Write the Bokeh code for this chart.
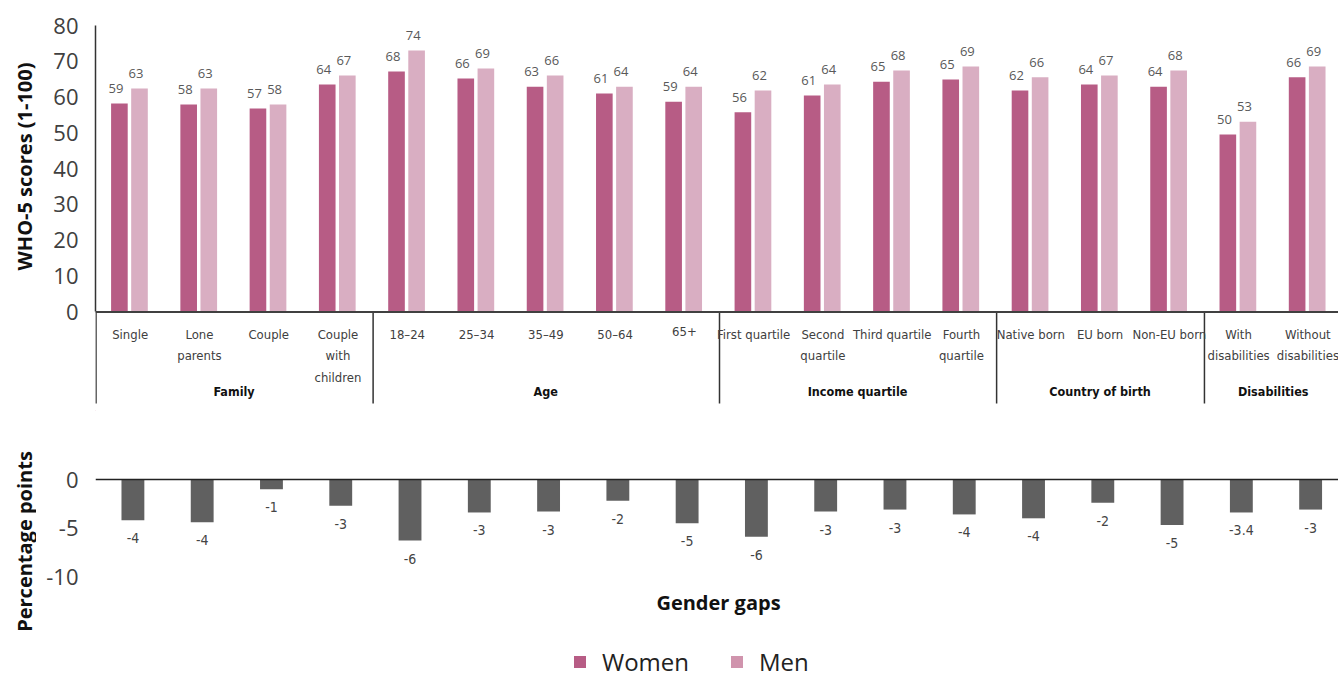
import math
from bokeh.plotting import figure
from bokeh.layouts import column, row
from bokeh.models import Range1d, FixedTicker, Span, Legend, LegendItem
from bokeh.core.properties import value
from bokeh.embed import file_html
from bokeh.resources import INLINE

# ---------------- data ----------------
categories = ["Single", "Lone\nparents", "Couple", "Couple\nwith\nchildren",
              "18\u201324", "25\u201334", "35\u201349", "50\u201364", "65+",
              "First quartile", "Second\nquartile", "Third quartile", "Fourth\nquartile",
              "Native born", "EU born", "Non-EU born",
              "With\ndisabilities", "Without\ndisabilities"]
groups = ["Family", "Age", "Income quartile", "Country of birth", "Disabilities"]
group_sizes = [4, 5, 4, 3, 2]

women = [58.2, 57.9, 56.8, 63.5, 67.1, 65.2, 62.9, 61.0, 58.7,
         55.7, 60.4, 64.3, 64.9, 61.8, 63.5, 62.9, 49.5, 65.5]
men = [62.4, 62.4, 57.9, 66.0, 73.0, 68.0, 66.0, 62.9, 62.9,
       61.8, 63.5, 67.4, 68.5, 65.5, 66.0, 67.4, 53.1, 68.5]
women_labels = ["59", "58", "57", "64", "68", "66", "63", "61", "59",
                "56", "61", "65", "65", "62", "64", "64", "50", "66"]
men_labels = ["63", "63", "58", "67", "74", "69", "66", "64", "64",
              "62", "64", "68", "69", "66", "67", "68", "53", "69"]

gaps = [-4.2, -4.4, -1.0, -2.7, -6.3, -3.4, -3.3, -2.2, -4.5,
        -5.9, -3.3, -3.1, -3.6, -4.0, -2.4, -4.7, -3.4, -3.1]
gap_labels = ["-4", "-4", "-1", "-3", "-6", "-3", "-3", "-2", "-5",
              "-6", "-3", "-3", "-4", "-4", "-2", "-5", "-3.4", "-3"]

y_ticks_top = [0, 10, 20, 30, 40, 50, 60, 70, 80]
y_ticks_bottom = [-10, -5, 0]
y_tick_labels_bottom = {-10: "-10", -5: "-5", 0: "0"}
axis_titles = ["WHO-5 scores (1-100)", "Percentage points"]

# ---------------- styling ----------------
WOMEN_C = "#b75c85"
MEN_C = "#d9aec2"
MEN_LEG_C = "#d094ad"
GAP_C = "#606060"
PAGE_W, PAGE_H = 1338, 679
TITLE_W = 36                 # strip holding the rotated axis titles
W = PAGE_W - TITLE_W
LEFT = 95 - TITLE_W
NARROW = "'Liberation Sans Narrow', 'DejaVu Sans Condensed', 'Roboto Condensed', 'Open Sans'"

n = len(categories)
x_end = 18.0 - 4 / 69.25
xr = Range1d(0, x_end)
px_per_x = (W - LEFT) / x_end
slot = [i + 0.5 for i in range(n)]


def style_yaxis(ax, ticks):
    ax.ticker = FixedTicker(ticks=ticks)
    ax.major_tick_line_color = None
    ax.minor_tick_line_color = None
    ax.major_tick_out = 0
    ax.minor_tick_out = 0
    ax.major_tick_in = 0
    ax.major_label_standoff = 17
    ax.major_label_text_font = "Open Sans"
    ax.major_label_text_font_size = "22px"
    ax.major_label_text_color = "#404040"


# ---------------- axis-title strip ----------------
pt = figure(width=TITLE_W, height=PAGE_H, x_range=Range1d(0, TITLE_W),
            y_range=Range1d(0, PAGE_H), output_backend="svg", toolbar_location=None,
            x_axis_location=None, y_axis_location=None,
            min_border_left=0, min_border_right=0, min_border_top=0, min_border_bottom=0)
pt.grid.visible = False
pt.outline_line_color = None
pt.text(x=[23.5, 23.5], y=[PAGE_H - 166, PAGE_H - 541], text=axis_titles, angle=math.pi / 2,
        text_align="center", text_baseline="middle", text_font=value("Open Sans"),
        text_font_size="20px", text_font_style="bold", text_color="#111111")

# ---------------- top chart + category band ----------------
TOP_H = 410
TOP_BORDER = 25
ppu_top = 286 / 80.0          # pixels per score unit
band_px = TOP_H - TOP_BORDER - 286
y_min_top = -band_px / ppu_top

p1 = figure(width=W, height=TOP_H, x_range=xr, y_range=Range1d(y_min_top, 80),
            output_backend="svg", toolbar_location=None, x_axis_location=None,
            min_border_left=LEFT, min_border_right=0, min_border_top=TOP_BORDER,
            min_border_bottom=0)
p1.grid.visible = False
p1.outline_line_color = None
ya = p1.yaxis[0]
style_yaxis(ya, y_ticks_top)
ya.bounds = (0, 80)
ya.axis_line_color = "#333333"
ya.axis_line_width = 1.5

xw = [s - 0.155 for s in slot]
xm = [s + 0.135 for s in slot]
p1.vbar(x=xw, top=women, bottom=0, width=0.24, fill_color=WOMEN_C, line_color=None)
p1.vbar(x=xm, top=men, bottom=0, width=0.24, fill_color=MEN_C, line_color=None)

lab_off = 15 / ppu_top
p1.text(x=[x - 0.05 for x in xw], y=[v + lab_off for v in women], text=women_labels,
        text_align="center", text_baseline="middle", text_font=value("Open Sans"),
        text_font_size="13px", text_color="#595959")
p1.text(x=[x - 0.05 for x in xm], y=[v + lab_off for v in men], text=men_labels,
        text_align="center", text_baseline="middle", text_font=value("Open Sans"),
        text_font_size="13px", text_color="#595959")

# baseline, separators and category labels
p1.add_layout(Span(location=-0.5 / ppu_top, dimension="width",
                   line_color="#404040", line_width=2))
bounds = [0]
for g in group_sizes:
    bounds.append(bounds[-1] + g)
sep_x = [b + 0.5 / px_per_x for b in bounds[:-1]]
p1.segment(x0=sep_x, y0=[0] * len(sep_x), x1=sep_x, y1=[-92 / ppu_top] * len(sep_x),
           line_color="#333333", line_width=1.5)

p1.text(x=slot, y=[-15 / ppu_top] * n, text=categories, text_align="center",
        text_baseline="top", text_font=value(NARROW), text_font_size="13px",
        text_line_height=1.45, text_color="#404040")
gx = [(bounds[i] + bounds[i + 1]) / 2 for i in range(len(groups))]
p1.text(x=gx, y=[-80 / ppu_top] * len(groups), text=groups, text_align="center",
        text_baseline="alphabetic", text_font=value(NARROW), text_font_size="12.5px",
        text_font_style="bold", text_color="#111111")

# ---------------- gender gap chart ----------------
BOT_H = PAGE_H - TOP_H
ppu_bot = 9.7
zero_px = 69  # from top of this figure
y_top = zero_px / ppu_bot
y_bot = -(BOT_H - zero_px) / ppu_bot

p2 = figure(width=W, height=BOT_H, x_range=xr, y_range=Range1d(y_bot, y_top),
            output_backend="svg", toolbar_location=None, x_axis_location=None,
            min_border_left=LEFT, min_border_right=0, min_border_top=0, min_border_bottom=0)
p2.grid.visible = False
p2.outline_line_color = None
yb = p2.yaxis[0]
style_yaxis(yb, y_ticks_bottom)
yb.major_label_overrides = y_tick_labels_bottom
yb.axis_line_color = None

xg = [s + 0.04 for s in slot]
p2.vbar(x=xg, top=0, bottom=gaps, width=0.33, fill_color=GAP_C, line_color=None)
p2.add_layout(Span(location=0, dimension="width", line_color="#222222", line_width=1.5))
p2.text(x=xg, y=[g - 18 / ppu_bot for g in gaps], text=gap_labels,
        text_align="center", text_baseline="middle", text_font=value(NARROW),
        text_font_size="14px", text_color="#444444")
p2.text(x=[(718 - 95) / px_per_x], y=[-(602 - 479) / ppu_bot], text=["Gender gaps"],
        text_align="center", text_baseline="middle", text_font=value("Open Sans"),
        text_font_size="20px", text_font_style="bold", text_color="#111111")

# legend (proxy renderers placed well outside the visible ranges)
rw = p2.vbar(x=[-50], top=[200], bottom=[150], width=0.1, fill_color=WOMEN_C, line_color=None)
rm = p2.vbar(x=[-50], top=[200], bottom=[150], width=0.1, fill_color=MEN_LEG_C, line_color=None)
legend = Legend(items=[LegendItem(label="Women", renderers=[rw]),
                       LegendItem(label="Men", renderers=[rm])],
                orientation="horizontal", location=(477, 1),
                glyph_width=15, glyph_height=15, label_standoff=15, spacing=40,
                padding=0, margin=0, border_line_color=None, background_fill_alpha=0,
                label_text_font="Open Sans", label_text_font_size="24px",
                label_text_color="#222222")
p2.add_layout(legend)

layout = row(pt, column(p1, p2, spacing=0), spacing=0)
open("out.html", "w").write(file_html(layout, INLINE))
